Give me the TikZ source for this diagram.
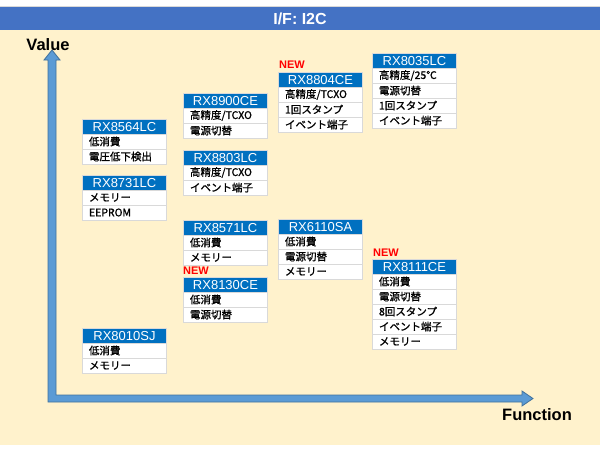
\documentclass[tikz,border=0pt]{standalone}
\usepackage{fontspec}
\setmainfont{Liberation Sans}
\newfontfamily\jpfont[FakeBold=1.2]{Noto Sans CJK JP}
\definecolor{titleblue}{HTML}{4472C4}
\definecolor{cream}{HTML}{FFF2CC}
\definecolor{chipblue}{HTML}{0070C0}
\definecolor{axisfill}{HTML}{5B9BD5}
\definecolor{axisline}{HTML}{41719C}
\definecolor{rowline}{HTML}{D9D9D9}
\tikzset{
  chiphead/.style={anchor=north west, fill=chipblue, draw=rowline, line width=1pt,
    text=white, text width=80pt, inner xsep=2pt, inner ysep=0pt,
    minimum height=14.5pt, align=center, font=\fontsize{13}{13}\selectfont},
  chiprow/.style={anchor=north west, fill=white, draw=rowline, line width=1pt,
    text width=71pt, inner xsep=6.5pt, inner ysep=0pt, minimum height=15pt,
    font=\jpfont\fontsize{10.5}{10.5}\selectfont},
  newtag/.style={anchor=base west, inner sep=0pt, text=red,
    font=\bfseries\fontsize{11}{11}\selectfont},
}
% header at (x,y) = top left corner, rows below it
\newcommand{\chip}[4]{%
  \node[chiphead] (#1) at (#2,#3) {#1};
  \foreach \rowtext [count=\i] in {#4}
    \node[chiprow] (#1-\i) at (#2,#3+14.5+15*\i-15) {\rowtext};
}
\begin{document}
\begin{tikzpicture}[x=1pt,y=-1pt]
\useasboundingbox (0,0) rectangle (600,463);
\fill[white] (0,0) rectangle (600,463);
\fill[cream] (0,30) rectangle (600,445);
\fill[titleblue] (0,7) rectangle (600,30);
\draw[rowline] (0,6.5) -- (600,6.5);
\node[text=white, font=\bfseries\fontsize{16}{16}\selectfont] (title) at (300,18.5) {I/F: I2C};

% axes
\coordinate (O) at (52,398);
\filldraw[fill=axisfill, draw=axisline, line width=0.8pt]
  (48,402) -- (48,60) -- (44,60) -- (52,50) -- (60,60) -- (56,60) -- (56,395)
  -- (522,395) -- (522,391) -- (533,398.5) -- (522,406) -- (522,402) -- cycle;
\node[font=\bfseries\fontsize{16.5}{16.5}\selectfont] (value) at (48,45) {Value};
\node[font=\bfseries\fontsize{16.5}{16.5}\selectfont] (function) at (537,415) {Function};

% chips
\chip{RX8564LC}{82}{119}{低消費,電圧低下検出}
\chip{RX8731LC}{82}{175}{メモリー,EEPROM}
\chip{RX8010SJ}{82}{328}{低消費,メモリー}
\chip{RX8900CE}{183}{93}{高精度/TCXO,電源切替}
\chip{RX8803LC}{183}{150}{高精度/TCXO,イベント端子}
\chip{RX8571LC}{183}{220}{低消費,メモリー}
\chip{RX8130CE}{183}{277}{低消費,電源切替}
\chip{RX6110SA}{278}{219}{低消費,電源切替,メモリー}
\chip{RX8804CE}{278}{72}{高精度/TCXO,1回スタンプ,イベント端子}
\chip{RX8035LC}{372}{53}{高精度/25℃,電源切替,1回スタンプ,イベント端子}
\chip{RX8111CE}{372}{259}{低消費,電源切替,8回スタンプ,イベント端子,メモリー}

\node[newtag] (new1) at (279,68) {NEW};
\node[newtag] (new2) at (183,274) {NEW};
\node[newtag] (new3) at (373,256) {NEW};
\end{tikzpicture}
\end{document}
